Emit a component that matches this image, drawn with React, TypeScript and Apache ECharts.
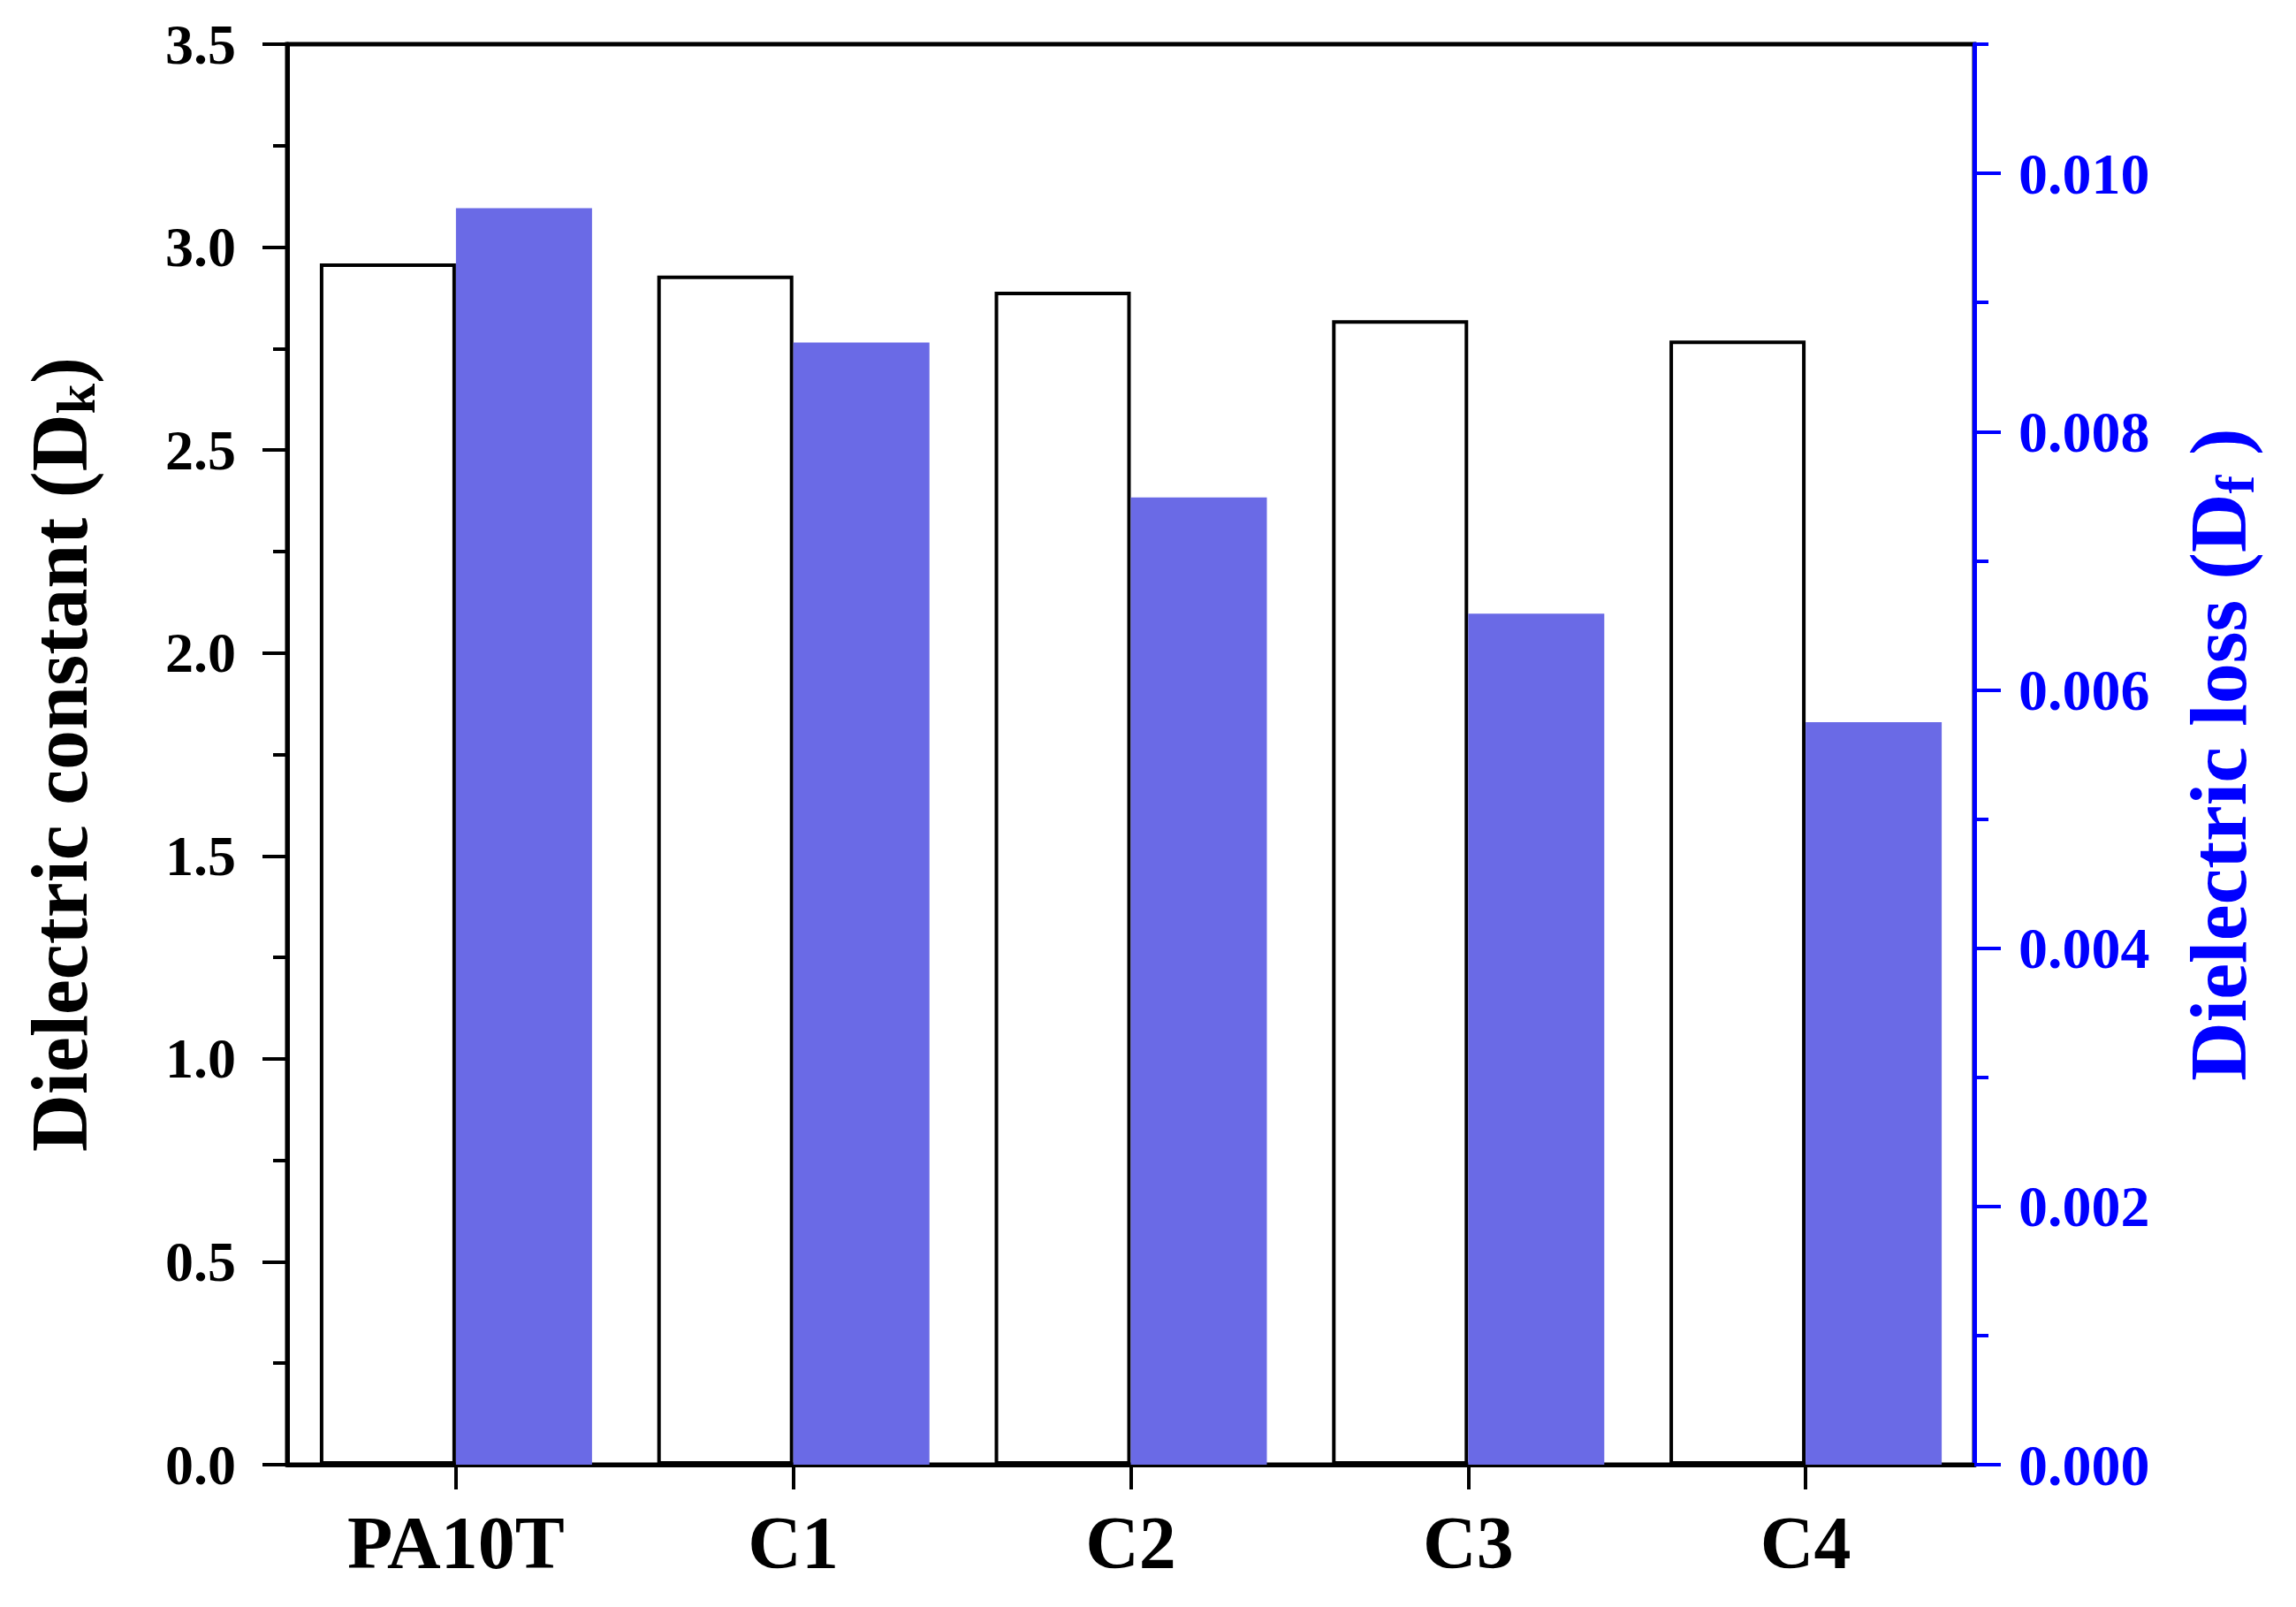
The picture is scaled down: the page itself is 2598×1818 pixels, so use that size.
import React, { useEffect, useRef } from "react";
import * as echarts from "echarts";

const categories = ["PA10T", "C1", "C2", "C3", "C4"];
const dielectricConstant = [2.96, 2.93, 2.89, 2.82, 2.77];
const dielectricLoss = [0.00973, 0.00869, 0.00749, 0.00659, 0.00575];
const rightMajorTicks = [0, 0.002, 0.004, 0.006, 0.008, 0.01];

const FONT = "'Liberation Serif', 'Times New Roman', serif";
const BLUE = "#0000ff";
const BAR_BLUE = "#6a6ae6";

export default function App() {
  const ref = useRef<HTMLDivElement>(null);
  useEffect(() => {
    if (!ref.current) return;
    const chart = echarts.init(ref.current, undefined, { renderer: "svg" });
    chart.setOption({
      animation: false,
      backgroundColor: "#ffffff",
      grid: {
        left: 325,
        right: 364,
        top: 50,
        bottom: 161,
        show: true,
        borderColor: "#000",
        borderWidth: 5,
        backgroundColor: "transparent",
      },
      xAxis: {
        type: "category",
        data: categories,
        boundaryGap: true,
        axisLine: { show: true, lineStyle: { color: "#000", width: 5 } },
        axisTick: { show: true, alignWithLabel: true, length: 28, lineStyle: { color: "#000", width: 4 } },
        axisLabel: { fontFamily: FONT, fontWeight: "bold", fontSize: 84, color: "#000", margin: 46 },
        splitLine: { show: false },
      },
      yAxis: [
        {
          type: "value",
          position: "left",
          min: 0,
          max: 3.5,
          interval: 0.5,
          name: "Dielectric constant (D{sub|k})",
          nameLocation: "middle",
          nameRotate: 90,
          nameGap: 208,
          nameTextStyle: {
            fontFamily: FONT,
            fontWeight: "bold",
            fontSize: 90,
            color: "#000",
            lineHeight: 100,
            rich: {
              sub: { fontFamily: FONT, fontWeight: "bold", fontSize: 62, color: "#000", lineHeight: 40, verticalAlign: "bottom" },
            },
          },
          axisLine: { show: true, lineStyle: { color: "#000", width: 5 } },
          axisTick: { show: true, length: 28, lineStyle: { color: "#000", width: 4 } },
          minorTick: { show: true, splitNumber: 2, length: 16, lineStyle: { color: "#000", width: 4 } },
          axisLabel: {
            fontFamily: FONT,
            fontWeight: "bold",
            fontSize: 64,
            color: "#000",
            margin: 58,
            formatter: (v: number) => v.toFixed(1),
          },
          splitLine: { show: false },
        },
        {
          type: "value",
          position: "right",
          min: 0,
          max: 0.011,
          interval: 0.001,
          name: "Dielectric loss (D{sub|f} )",
          nameLocation: "middle",
          nameRotate: 90,
          nameGap: 226,
          nameTextStyle: {
            fontFamily: FONT,
            fontWeight: "bold",
            fontSize: 92,
            color: BLUE,
            lineHeight: 100,
            rich: {
              sub: { fontFamily: FONT, fontWeight: "bold", fontSize: 62, color: BLUE, lineHeight: 40, verticalAlign: "bottom" },
            },
          },
          axisLine: { show: true, lineStyle: { color: BLUE, width: 5 } },
          axisTick: { show: true, length: 16, lineStyle: { color: BLUE, width: 4 } },
          axisLabel: { show: false },
          splitLine: { show: false },
        },
        {
          type: "value",
          position: "right",
          min: 0,
          max: 0.011,
          axisLine: { show: false },
          axisTick: { show: true, customValues: rightMajorTicks, length: 30, lineStyle: { color: BLUE, width: 4 } },
          axisLabel: {
            customValues: rightMajorTicks,
            fontFamily: FONT,
            fontWeight: "bold",
            fontSize: 66,
            color: BLUE,
            margin: 50,
            formatter: (v: number) => v.toFixed(3),
          },
          splitLine: { show: false },
        },
      ],
      series: [
        {
          type: "bar",
          name: "Dk",
          data: dielectricConstant,
          yAxisIndex: 0,
          barWidth: 154,
          barGap: "0%",
          itemStyle: { color: "#ffffff", borderColor: "#000", borderWidth: 4 },
        },
        {
          type: "bar",
          name: "Df",
          data: dielectricLoss,
          yAxisIndex: 1,
          barWidth: 154,
          barGap: "0%",
          itemStyle: { color: BAR_BLUE },
        },
      ],
    });
    return () => chart.dispose();
  }, []);
  return (
    <div
      ref={ref}
      style={{ position: "fixed", left: 0, top: 0, width: 2598, height: 1818, background: "#fff" }}
    />
  );
}
